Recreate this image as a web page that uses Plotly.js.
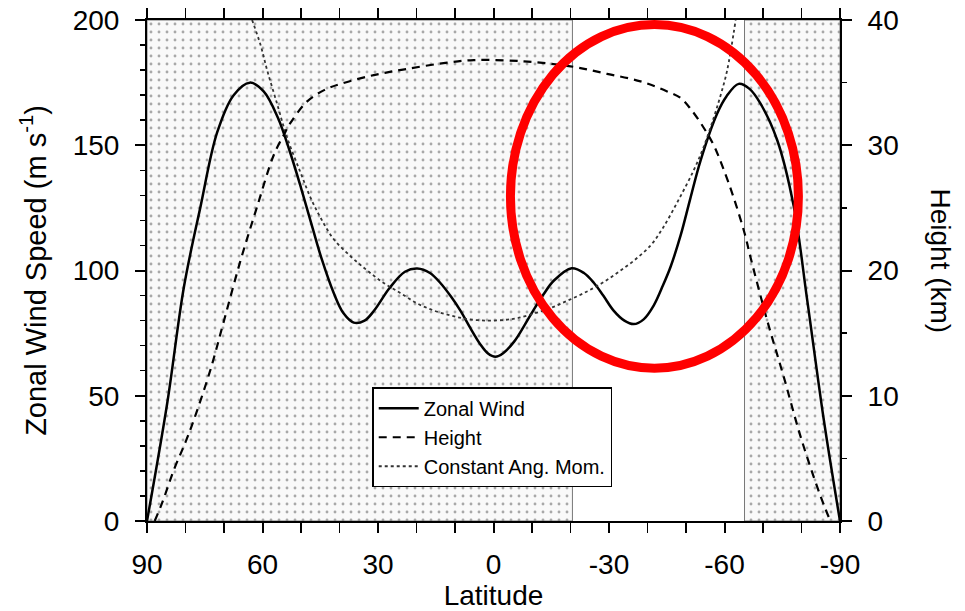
<!DOCTYPE html>
<html>
<head>
<meta charset="utf-8">
<script src="https://cdn.plot.ly/plotly-3.0.1.min.js"></script>
<style>html,body{margin:0;padding:0;background:#fff;}#chart{width:965px;height:611px;}</style>
</head>
<body>
<div id="chart"></div>
<script>
// Zonal wind (m/s) vs latitude
const windLat = [90, 84.75, 80.4, 76.1, 71.8, 67.5, 63.3, 59.7, 56, 53, 50, 47, 44.5, 41.5, 39, 36.3, 33.5, 31, 27, 23, 19.8, 16.5, 13.8, 11, 8.6, 6, 3.4, 1.5, -0.5, -2.5, -5.3, -8, -10.5, -13, -15.7, -20.3, -23.5, -26.1, -28.5, -31.2, -34, -36.4, -39, -41.6, -44, -46, -48.6, -51, -53.8, -58.1, -60.5, -63.7, -66.5, -69.4, -73.7, -78, -81.5, -85.8, -90];
const windVal = [0, 47, 93.5, 125.5, 155, 170, 175, 171.5, 161, 148, 133, 117, 104, 91, 83, 79.2, 80, 84, 93, 99.5, 100.8, 99, 95, 89.5, 84, 77, 70.5, 67, 65.6, 67, 71.5, 78, 84.5, 90.5, 96, 100.9, 99, 95, 90, 84, 80, 78.6, 80.5, 86, 94, 101.5, 114, 128, 144, 162.7, 169.5, 174.5, 172.5, 166.5, 152, 125.5, 88, 40.3, 0];
// Height (km) vs latitude
const heightLat = [88, 86, 83, 80, 77.8, 73.5, 70, 65.7, 61.4, 57.1, 54.5, 52.7, 48.4, 44, 39.7, 31.1, 22.4, 12, 5.1, -7.9, -20, -29.5, -38.2, -45.1, -48.5, -51.2, -54.6, -57.2, -59.5, -62.4, -65.2, -66.8, -71.1, -75.4, -79.7, -84.1, -86.3, -87.5];
const heightVal = [0, 1.5, 4.1, 6.3, 8.1, 12.1, 16, 20.8, 25.1, 29.2, 30.8, 31.8, 33.5, 34.4, 34.9, 35.6, 36.1, 36.6, 36.8, 36.7, 36.3, 35.7, 35.1, 34.3, 33.8, 32.9, 31.4, 30, 28.3, 25.8, 23, 21, 16, 11.5, 6.8, 2.7, 0.9, 0];
// Constant angular momentum wind (m/s) vs latitude
const angLat = [62.7, 60.5, 58.8, 56.2, 53.6, 50.1, 47.5, 44.9, 41.5, 37, 32.8, 28.5, 24.2, 20, 15.5, 11, 6.8, 1.6, -3, -6.2, -10.5, -14.8, -19, -23.5, -28, -32.1, -36.5, -40.8, -44, -48, -52, -54.5, -57.2, -59, -60.7, -62.9];
const angVal = [200, 190, 180, 166.5, 153, 139, 129, 121, 112.5, 105.5, 100, 95, 91, 87, 84, 82, 80.6, 80, 80.3, 81, 82.8, 85, 87.8, 91, 94.8, 99, 104, 110, 117, 128, 140, 149, 161, 170, 180, 200];
// Shaded (stippled) latitude bands
const bandStart = [90, -65.2];
const bandEnd = [-20.5, -90];
const bandTop = [200, 200];
// Tick labels
const xTickVals = [90, 60, 30, 0, -30, -60, -90];
const xTickText = ['90', '60', '30', '0', '-30', '-60', '-90'];

const FONT = '"Liberation Sans", Arial, Helvetica, sans-serif';

const bandCenter = bandStart.map((s, i) => (s + bandEnd[i]) / 2);
const bandWidth = bandStart.map((s, i) => Math.abs(s - bandEnd[i]));

const traces = [
  {
    type: 'bar', x: bandCenter, y: bandTop, width: bandWidth, yaxis: 'y',
    showlegend: false, hoverinfo: 'skip',
    marker: {
      color: '#f8f8f8',
      line: {color: '#777', width: 1},
      pattern: {shape: '.', fgcolor: '#a8a8a8', bgcolor: '#f9f9f9', size: 8, solidity: 0.1}
    }
  },
  {
    type: 'scatter', mode: 'lines', name: 'Zonal Wind', x: windLat, y: windVal, yaxis: 'y',
    line: {color: '#000', width: 2.5, shape: 'spline', smoothing: 1}
  },
  {
    type: 'scatter', mode: 'lines', name: 'Height', x: heightLat, y: heightVal, yaxis: 'y2',
    line: {color: '#000', width: 2.2, dash: '8px,6px', shape: 'spline', smoothing: 1}
  },
  {
    type: 'scatter', mode: 'lines', name: 'Constant Ang. Mom.', x: angLat, y: angVal, yaxis: 'y',
    line: {color: '#333', width: 1.8, dash: 'dot', shape: 'spline', smoothing: 1}
  }
];

const layout = {
  width: 965, height: 611,
  margin: {l: 147, r: 125, t: 20, b: 90},
  paper_bgcolor: '#fff', plot_bgcolor: '#fff',
  font: {family: FONT, color: '#000'},
  showlegend: true,
  bargap: 0,
  legend: {
    x: 0.325, y: 0.267, xanchor: 'left', yanchor: 'top',
    bgcolor: '#fff', bordercolor: '#000', borderwidth: 1.5,
    font: {family: FONT, size: 20, color: '#000'},
    tracegroupgap: 0, itemwidth: 40
  },
  xaxis: {
    range: [90, -90], autorange: false,
    tickvals: xTickVals, ticktext: xTickText,
    ticks: 'outside', ticklen: 10, tickwidth: 2, tickcolor: '#000',
    minor: {dtick: 10, tick0: 0, ticks: 'outside', ticklen: 6, tickwidth: 1.5, tickcolor: '#000'},
    showline: true, linecolor: '#000', linewidth: 2, mirror: 'allticks',
    showgrid: false, zeroline: false,
    ticklabelstandoff: 7,
    tickfont: {family: FONT, size: 28},
    title: {text: 'Latitude', font: {family: FONT, size: 28}, standoff: 6}
  },
  yaxis: {
    range: [0, 200], autorange: false, dtick: 50, tick0: 0,
    ticks: 'outside', ticklen: 10, tickwidth: 2, tickcolor: '#000',
    minor: {dtick: 10, ticks: 'outside', ticklen: 5, tickwidth: 1.5, tickcolor: '#000'},
    showline: true, linecolor: '#000', linewidth: 2,
    showgrid: false, zeroline: false,
    ticklabelstandoff: 10,
    tickfont: {family: FONT, size: 28},
    title: {text: 'Zonal Wind Speed (m s<sup>-1</sup>)', font: {family: FONT, size: 29}, standoff: 18}
  },
  yaxis2: {
    overlaying: 'y', side: 'right',
    range: [0, 40], autorange: false, dtick: 10, tick0: 0,
    ticks: 'outside', ticklen: 10, tickwidth: 2, tickcolor: '#000',
    minor: {dtick: 5, ticks: 'outside', ticklen: 5, tickwidth: 1.5, tickcolor: '#000'},
    showline: true, linecolor: '#000', linewidth: 2,
    showgrid: false, zeroline: false,
    ticklabelstandoff: 10,
    tickfont: {family: FONT, size: 28}
  },
  annotations: [
    {
      text: 'Height (km)', xref: 'paper', yref: 'paper', x: 1, y: 0.52,
      xanchor: 'center', yanchor: 'middle', xshift: 101, textangle: 90,
      showarrow: false, font: {family: FONT, size: 28, color: '#000'}
    }
  ],
  shapes: [
    {
      type: 'circle', xref: 'x', yref: 'y', x0: -4.4, x1: -79.2, y0: 61, y1: 198.2,
      line: {color: '#ff0000', width: 9}, layer: 'above'
    }
  ]
};

Plotly.newPlot('chart', traces, layout, {displayModeBar: false, staticPlot: true});
</script>
</body>
</html>
